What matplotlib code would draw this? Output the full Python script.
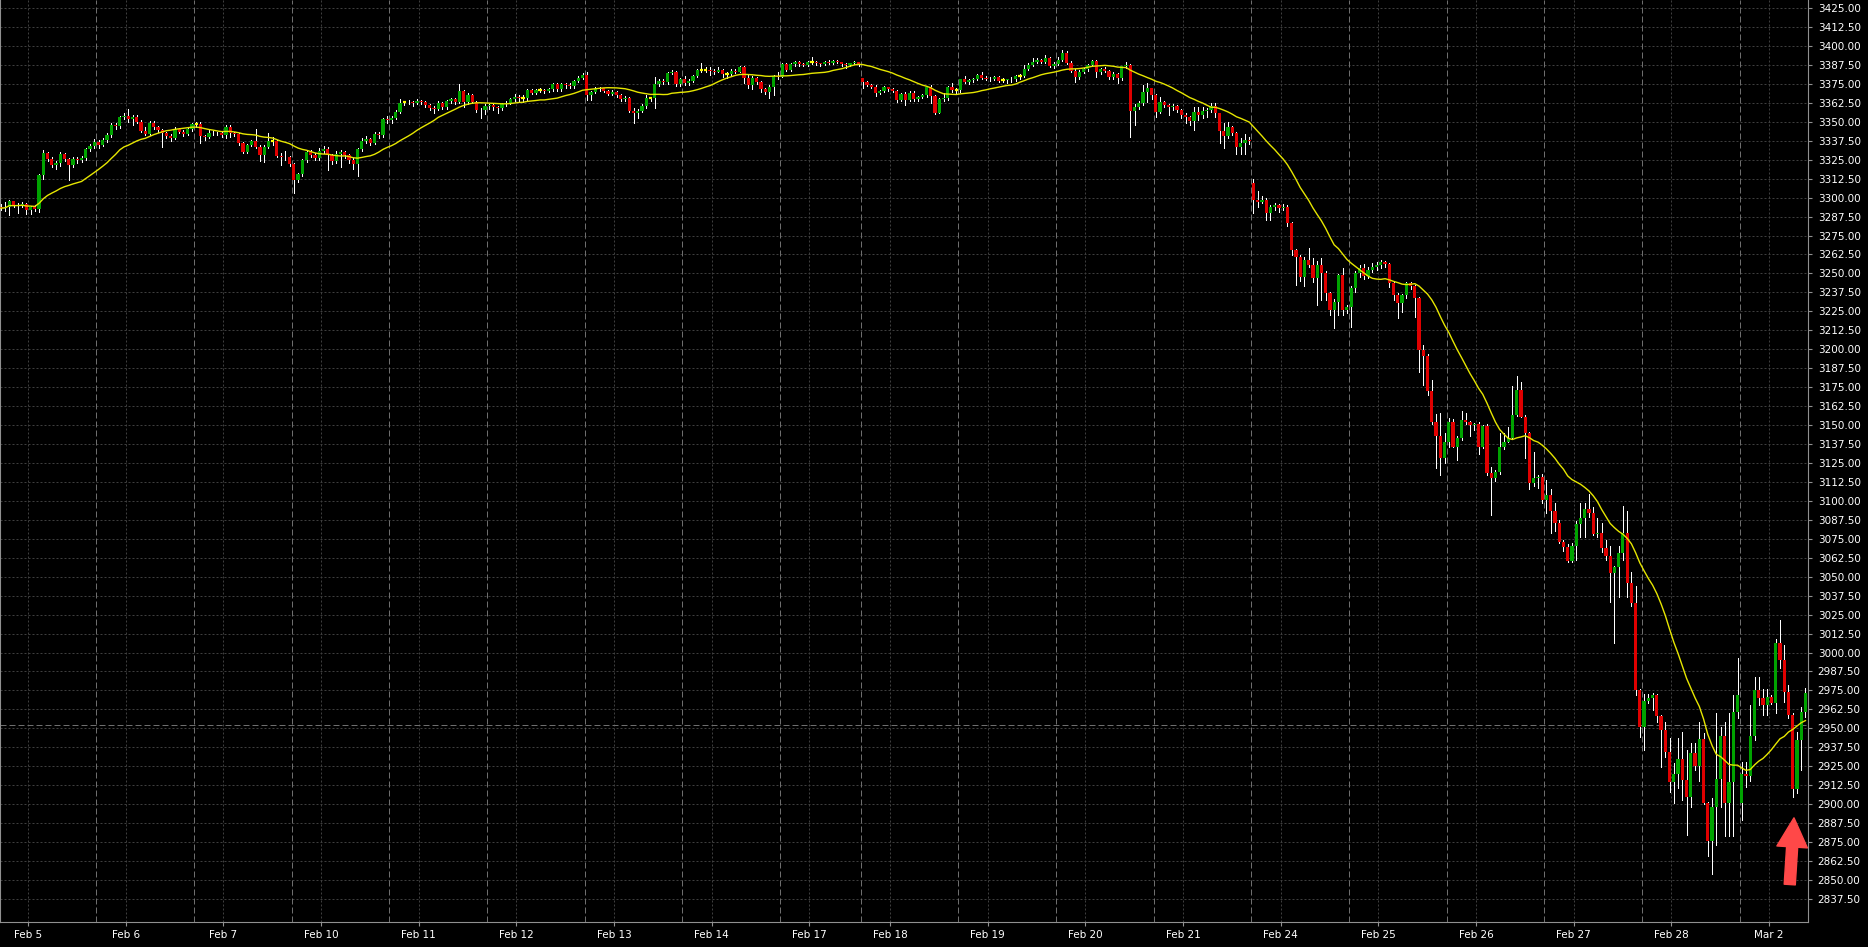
import numpy as np
import pandas as pd
import matplotlib
matplotlib.use('Agg')
import matplotlib.pyplot as plt

# hourly bars, one list per trading day: (high, low, close)
feb05 = [(3296.0, 3291.5, 3293.0), (3297.0, 3291.0, 3293.5), (3298.5, 3288.5, 3297.7), (3298.0, 3293.5, 3294.5),
         (3296.5, 3290.0, 3295.0), (3297.0, 3294.0, 3296.0), (3296.5, 3289.5, 3291.5), (3294.5, 3289.5, 3294.0),
         (3295.0, 3291.0, 3292.5), (3315.5, 3290.5, 3315.0), (3331.4, 3312.0, 3329.2), (3330.0, 3324.0, 3325.4),
         (3326.5, 3320.0, 3321.5), (3324.0, 3319.0, 3322.5), (3330.0, 3321.0, 3328.7), (3329.5, 3324.0, 3325.4),
         (3326.0, 3311.6, 3321.5), (3326.5, 3320.5, 3325.4), (3327.0, 3323.0, 3324.5), (3327.5, 3323.5, 3326.0),
         (3333.0, 3325.0, 3332.0), (3335.5, 3331.0, 3334.0), (3338.5, 3332.5, 3336.5)]
feb06 = [(3338.0, 3333.0, 3335.0), (3339.5, 3334.0, 3338.0), (3342.5, 3336.5, 3341.3), (3349.0, 3340.0, 3347.9),
         (3349.5, 3345.5, 3347.0), (3354.0, 3346.0, 3352.9), (3356.0, 3351.5, 3353.8), (3358.4, 3350.0, 3351.6),
         (3354.5, 3348.0, 3353.0), (3354.5, 3349.0, 3350.0), (3351.0, 3343.0, 3343.9), (3346.8, 3341.0, 3341.9),
         (3350.5, 3341.0, 3349.4), (3350.5, 3345.0, 3346.3), (3347.5, 3343.5, 3344.6), (3345.5, 3333.5, 3342.4),
         (3343.5, 3339.5, 3340.8), (3342.0, 3337.5, 3339.2), (3346.5, 3338.5, 3345.0), (3346.0, 3342.5, 3343.5),
         (3344.5, 3340.5, 3342.0), (3346.5, 3341.0, 3345.0), (3349.5, 3344.0, 3348.5)]
feb07 = [(3350.0, 3346.5, 3348.3), (3350.0, 3336.0, 3340.8), (3341.5, 3338.0, 3339.8), (3345.0, 3339.0, 3342.3),
         (3344.0, 3341.0, 3342.8), (3343.5, 3341.0, 3342.3), (3343.0, 3340.0, 3341.5), (3347.8, 3339.0, 3346.3),
         (3347.8, 3340.0, 3342.8), (3343.5, 3340.5, 3341.7), (3342.5, 3335.0, 3335.8), (3336.5, 3329.5, 3330.3),
         (3335.5, 3329.5, 3334.7), (3338.0, 3334.0, 3337.5), (3345.0, 3333.0, 3333.6), (3334.5, 3324.3, 3328.0),
         (3334.5, 3323.7, 3333.6), (3342.3, 3332.5, 3337.5), (3340.0, 3334.5, 3337.3), (3338.0, 3327.0, 3327.6),
         (3329.5, 3321.5, 3327.0), (3331.0, 3324.5, 3326.5), (3327.5, 3321.0, 3322.0)]
feb10 = [(3322.6, 3303.2, 3311.6), (3316.5, 3310.0, 3315.5), (3325.5, 3314.0, 3324.8), (3331.0, 3323.5, 3330.0),
         (3331.5, 3326.5, 3328.0), (3329.5, 3324.5, 3326.0), (3332.5, 3325.0, 3331.0), (3334.0, 3329.5, 3332.0),
         (3333.5, 3318.0, 3328.0), (3329.0, 3322.0, 3324.0), (3330.5, 3322.5, 3329.0), (3331.5, 3320.0, 3330.0),
         (3331.0, 3326.0, 3328.0), (3329.0, 3322.5, 3325.0), (3326.0, 3319.0, 3322.0), (3333.0, 3314.0, 3332.0),
         (3339.0, 3331.0, 3337.5), (3340.5, 3336.0, 3338.5), (3339.5, 3335.0, 3336.0), (3343.5, 3335.5, 3342.0),
         (3343.0, 3339.5, 3341.0), (3352.5, 3340.0, 3351.6), (3353.5, 3349.0, 3351.0)]
feb11 = [(3354.0, 3349.5, 3352.3), (3357.5, 3351.5, 3356.7), (3364.8, 3355.5, 3362.6), (3364.0, 3361.0, 3362.8),
         (3364.5, 3361.5, 3363.2), (3364.0, 3360.5, 3362.5), (3365.0, 3361.5, 3363.9), (3364.5, 3361.5, 3363.2),
         (3364.0, 3359.5, 3361.0), (3361.5, 3357.5, 3359.3), (3360.5, 3355.6, 3358.5), (3363.5, 3357.5, 3362.6),
         (3363.0, 3358.5, 3359.5), (3364.5, 3358.5, 3363.9), (3366.0, 3362.5, 3364.8), (3365.5, 3362.0, 3363.2),
         (3374.9, 3362.5, 3370.3), (3371.0, 3360.0, 3363.2), (3369.0, 3362.0, 3367.6), (3368.5, 3362.5, 3363.2),
         (3364.0, 3356.5, 3357.8), (3359.0, 3352.3, 3357.5), (3361.5, 3355.0, 3360.5)]
feb12 = [(3362.0, 3358.5, 3361.0), (3362.0, 3358.0, 3359.5), (3360.5, 3355.5, 3359.0), (3362.5, 3358.0, 3361.7),
         (3363.5, 3360.5, 3362.6), (3365.5, 3361.5, 3364.8), (3368.0, 3363.5, 3366.5), (3367.5, 3363.0, 3365.4),
         (3367.6, 3363.0, 3365.6), (3371.5, 3364.5, 3370.9), (3371.5, 3368.0, 3369.2), (3371.5, 3368.5, 3370.9),
         (3372.0, 3369.5, 3371.0), (3371.5, 3369.0, 3370.3), (3372.5, 3369.5, 3371.4), (3375.5, 3370.5, 3374.9),
         (3375.5, 3370.5, 3371.4), (3375.5, 3370.0, 3374.9), (3375.8, 3372.5, 3374.2), (3375.5, 3372.0, 3373.5),
         (3377.8, 3372.5, 3377.1), (3380.0, 3376.0, 3379.1), (3382.0, 3378.5, 3380.8)]
feb13 = [(3383.0, 3364.3, 3367.6), (3370.5, 3364.3, 3369.8), (3373.1, 3369.0, 3371.4), (3373.0, 3370.5, 3372.0),
         (3372.5, 3369.5, 3370.5), (3371.0, 3367.5, 3368.5), (3371.0, 3367.5, 3369.8), (3370.5, 3366.5, 3367.6),
         (3368.5, 3364.0, 3365.0), (3367.0, 3363.5, 3366.0), (3366.5, 3356.5, 3357.3), (3359.0, 3349.0, 3356.0),
         (3358.5, 3352.3, 3357.3), (3361.5, 3356.5, 3360.4), (3367.6, 3359.0, 3365.4), (3366.5, 3364.0, 3365.6),
         (3379.7, 3359.0, 3374.9), (3378.5, 3373.5, 3377.1), (3378.0, 3375.0, 3376.0), (3383.0, 3375.0, 3382.4),
         (3384.0, 3381.5, 3383.0), (3383.5, 3373.5, 3374.9), (3379.0, 3373.5, 3378.0)]
feb14 = [(3380.2, 3374.0, 3375.3), (3378.0, 3374.5, 3377.0), (3381.0, 3376.5, 3380.2), (3385.0, 3379.5, 3384.0),
         (3388.5, 3382.5, 3384.1), (3386.0, 3383.0, 3384.3), (3386.0, 3381.0, 3383.7), (3384.5, 3381.5, 3383.0),
         (3386.0, 3382.5, 3384.0), (3384.5, 3379.7, 3381.5), (3383.0, 3379.0, 3381.7), (3384.5, 3380.5, 3383.7),
         (3384.5, 3382.0, 3383.0), (3386.5, 3382.5, 3385.9), (3386.5, 3375.8, 3379.1), (3380.8, 3372.5, 3374.2),
         (3380.0, 3371.4, 3379.1), (3379.5, 3375.0, 3376.4), (3377.0, 3369.8, 3371.4), (3372.0, 3368.5, 3369.8),
         (3374.0, 3365.4, 3373.1), (3381.0, 3367.6, 3380.2), (3382.5, 3378.5, 3379.5)]
feb17 = [(3389.0, 3379.5, 3388.1), (3388.5, 3383.5, 3384.1), (3388.5, 3383.5, 3388.1), (3390.0, 3387.0, 3389.4),
         (3390.0, 3387.0, 3387.9), (3388.5, 3386.5, 3387.2), (3390.0, 3386.5, 3389.4), (3392.5, 3387.9, 3389.6),
         (3390.0, 3387.5, 3388.5), (3389.0, 3387.0, 3387.9), (3390.0, 3387.5, 3389.2), (3390.5, 3388.0, 3388.5),
         (3390.5, 3388.0, 3390.1), (3390.5, 3388.5, 3389.2), (3389.5, 3387.0, 3387.9), (3388.5, 3385.5, 3387.4),
         (3389.0, 3386.5, 3388.5), (3390.0, 3388.0, 3389.2), (3389.5, 3387.0, 3387.9)]
feb18 = [(3379.0, 3372.0, 3376.4), (3377.0, 3373.5, 3374.2), (3375.0, 3372.0, 3373.1), (3374.0, 3367.0, 3369.2),
         (3371.0, 3368.5, 3370.3), (3373.5, 3369.5, 3372.7), (3373.0, 3370.5, 3371.8), (3372.5, 3369.5, 3370.3),
         (3371.0, 3363.2, 3364.3), (3369.0, 3363.5, 3368.3), (3369.5, 3361.0, 3364.3), (3370.0, 3363.5, 3369.2),
         (3370.0, 3364.0, 3364.8), (3367.0, 3364.0, 3366.5), (3368.5, 3365.5, 3367.6), (3373.5, 3366.5, 3372.7),
         (3374.5, 3362.6, 3367.0), (3367.5, 3355.1, 3356.0), (3365.5, 3355.5, 3364.8), (3369.2, 3363.5, 3365.4),
         (3373.5, 3364.5, 3372.7), (3375.3, 3369.5, 3370.9), (3372.0, 3369.0, 3370.7)]
feb19 = [(3378.5, 3369.5, 3378.0), (3380.0, 3375.5, 3376.4), (3378.5, 3375.0, 3377.5), (3379.0, 3376.5, 3378.2),
         (3381.5, 3377.5, 3380.8), (3382.5, 3378.5, 3379.1), (3380.0, 3377.5, 3378.5), (3379.5, 3377.0, 3378.0),
         (3380.5, 3377.5, 3379.7), (3380.5, 3376.5, 3377.1), (3379.0, 3376.0, 3377.3), (3378.5, 3375.5, 3377.9),
         (3379.5, 3376.0, 3378.5), (3381.0, 3377.0, 3380.2), (3381.5, 3378.5, 3380.4), (3387.4, 3379.5, 3384.8),
         (3388.5, 3384.0, 3387.4), (3391.8, 3386.5, 3389.6), (3392.0, 3389.0, 3390.7), (3391.5, 3388.5, 3389.6),
         (3394.0, 3389.0, 3391.8), (3392.5, 3386.0, 3386.7), (3389.5, 3385.5, 3388.1)]
feb20 = [(3392.5, 3387.5, 3391.0), (3397.3, 3390.0, 3395.5), (3396.5, 3388.0, 3389.0), (3390.0, 3383.0, 3383.7),
         (3384.5, 3376.4, 3379.3), (3384.0, 3378.5, 3383.0), (3385.5, 3382.0, 3384.5), (3388.0, 3383.5, 3387.4),
         (3391.0, 3386.5, 3390.3), (3391.0, 3379.7, 3383.0), (3385.5, 3381.5, 3384.8), (3386.0, 3382.5, 3383.5),
         (3384.0, 3378.5, 3379.3), (3382.5, 3378.0, 3381.5), (3382.0, 3375.3, 3378.6), (3387.0, 3377.5, 3386.7),
         (3389.6, 3385.5, 3387.4), (3388.0, 3339.7, 3357.3), (3362.0, 3347.8, 3360.0), (3363.5, 3358.5, 3362.1),
         (3374.2, 3361.0, 3369.8), (3375.3, 3363.0, 3372.0), (3372.5, 3365.0, 3367.6)]
feb21 = [(3368.0, 3353.3, 3356.6), (3366.5, 3355.5, 3363.2), (3364.0, 3360.0, 3361.0), (3362.0, 3354.4, 3359.5),
         (3361.5, 3358.0, 3360.4), (3361.0, 3356.5, 3357.7), (3358.5, 3352.2, 3354.4), (3355.5, 3349.4, 3353.3),
         (3354.0, 3347.8, 3350.7), (3360.0, 3344.6, 3356.6), (3359.5, 3351.0, 3354.4), (3360.0, 3352.2, 3357.3),
         (3359.0, 3353.3, 3357.9), (3362.6, 3356.5, 3360.6), (3362.6, 3353.3, 3355.5), (3356.0, 3336.2, 3344.1),
         (3349.0, 3332.5, 3340.6), (3350.0, 3339.5, 3346.3), (3347.0, 3341.0, 3342.4), (3343.0, 3328.7, 3333.6),
         (3339.1, 3328.7, 3335.8), (3341.9, 3328.7, 3338.0), (3340.0, 3335.5, 3337.0)]
feb24 = [(3312.0, 3289.6, 3298.4), (3304.6, 3294.0, 3297.3), (3301.0, 3296.2, 3298.4), (3299.5, 3285.2, 3289.6),
         (3295.0, 3285.2, 3293.6), (3296.2, 3292.0, 3295.1), (3296.0, 3290.7, 3292.9), (3295.5, 3291.5, 3294.0),
         (3295.0, 3281.3, 3283.0), (3284.1, 3262.1, 3265.4), (3266.0, 3242.3, 3261.0), (3262.0, 3245.2, 3247.8),
         (3261.0, 3241.7, 3258.8), (3266.5, 3254.4, 3255.5), (3260.0, 3244.6, 3246.7), (3258.4, 3229.2, 3255.5),
         (3260.0, 3232.4, 3250.0), (3251.5, 3232.4, 3236.8), (3238.0, 3222.5, 3225.8), (3233.0, 3213.8, 3231.3),
         (3249.6, 3222.5, 3248.9), (3253.3, 3222.5, 3225.8), (3229.5, 3224.0, 3228.0)]
feb25 = [(3241.5, 3214.4, 3240.1), (3251.5, 3238.0, 3250.0), (3255.5, 3247.5, 3253.3), (3256.0, 3246.5, 3248.3),
         (3254.0, 3247.0, 3252.2), (3256.6, 3251.0, 3254.0), (3257.5, 3252.5, 3255.4), (3258.8, 3253.5, 3257.7),
         (3258.5, 3254.0, 3256.2), (3257.0, 3241.2, 3243.4), (3244.5, 3232.4, 3235.7), (3237.0, 3220.3, 3230.2),
         (3236.5, 3224.7, 3235.7), (3244.5, 3234.0, 3243.4), (3244.5, 3240.0, 3241.7), (3242.5, 3221.4, 3233.5),
         (3234.5, 3185.2, 3199.5), (3203.0, 3176.4, 3195.6), (3197.0, 3170.0, 3172.7), (3180.0, 3150.8, 3152.3),
         (3157.0, 3121.5, 3142.8), (3158.0, 3117.1, 3128.5), (3145.0, 3125.2, 3139.1)]
feb26 = [(3154.5, 3135.8, 3152.3), (3153.8, 3135.3, 3135.8), (3142.5, 3127.0, 3141.3), (3159.5, 3140.0, 3153.4),
         (3158.0, 3150.5, 3152.3), (3153.0, 3142.8, 3150.1), (3151.5, 3146.8, 3150.9), (3152.0, 3131.0, 3135.8),
         (3150.0, 3135.0, 3149.4), (3151.0, 3116.8, 3118.6), (3122.5, 3090.7, 3114.9), (3120.5, 3113.4, 3119.3),
         (3145.0, 3118.0, 3135.8), (3145.0, 3134.5, 3139.1), (3149.0, 3138.5, 3141.3), (3175.8, 3140.5, 3156.7),
         (3182.4, 3156.0, 3173.1), (3178.6, 3155.0, 3155.6), (3156.5, 3128.0, 3145.0), (3145.5, 3107.6, 3112.0),
         (3132.5, 3109.5, 3114.9), (3117.0, 3108.5, 3116.0), (3118.0, 3098.4, 3100.6)]
feb27 = [(3113.8, 3092.3, 3103.9), (3107.6, 3078.6, 3093.6), (3098.9, 3080.4, 3085.7), (3087.4, 3072.0, 3073.1),
         (3074.0, 3067.2, 3069.8), (3071.6, 3060.0, 3060.4), (3072.0, 3060.0, 3070.3), (3087.0, 3061.0, 3084.8),
         (3098.9, 3076.4, 3088.5), (3098.9, 3076.4, 3094.5), (3104.6, 3089.6, 3092.3), (3096.2, 3077.5, 3078.2),
         (3088.5, 3076.4, 3079.1), (3085.2, 3066.5, 3068.7), (3074.2, 3061.0, 3063.7), (3070.5, 3033.6, 3052.7),
         (3057.0, 3006.5, 3056.2), (3070.5, 3036.4, 3065.9), (3096.7, 3061.0, 3079.1), (3093.6, 3036.4, 3045.7),
         (3053.4, 3030.7, 3032.5), (3043.9, 2972.0, 2975.4), (2976.0, 2944.6, 2951.2)]
feb28 = [(2972.7, 2935.4, 2968.1), (2972.7, 2967.0, 2969.9), (2973.2, 2962.2, 2972.1), (2972.5, 2954.5, 2958.2),
         (2958.5, 2924.4, 2949.0), (2954.5, 2931.4, 2934.7), (2943.5, 2907.7, 2914.9), (2927.0, 2901.1, 2920.0),
         (2943.5, 2910.5, 2929.6), (2947.9, 2902.8, 2916.0), (2935.4, 2879.8, 2905.0), (2940.2, 2898.4, 2933.6),
         (2940.2, 2922.6, 2925.3), (2954.5, 2915.0, 2942.8), (2946.8, 2900.2, 2901.1), (2901.5, 2865.9, 2875.4),
         (2904.0, 2854.1, 2898.4), (2960.0, 2873.2, 2916.5), (2951.2, 2898.4, 2945.1), (2954.5, 2878.7, 2901.1),
         (2960.0, 2878.7, 2914.9), (2972.1, 2878.7, 2961.1), (2996.2, 2956.7, 2972.1)]
mar02 = [(2928.1, 2889.6, 2920.0), (2928.1, 2911.6, 2918.7), (2965.5, 2915.0, 2945.1), (2983.7, 2942.4, 2975.4),
         (2983.7, 2965.5, 2970.0), (2975.8, 2958.9, 2965.5), (2975.8, 2958.9, 2971.0), (2972.0, 2966.0, 2966.6),
         (3008.8, 2960.0, 3006.1), (3021.5, 2989.6, 2995.1), (3005.0, 2967.7, 2974.3), (2978.5, 2956.7, 2958.9),
         (2960.0, 2904.4, 2909.9), (2947.9, 2907.2, 2942.4), (2964.4, 2922.6, 2961.1), (2976.5, 2957.8, 2973.2)]

day_labels = ['Feb 5', 'Feb 6', 'Feb 7', 'Feb 10', 'Feb 11', 'Feb 12', 'Feb 13', 'Feb 14', 'Feb 17',
              'Feb 18', 'Feb 19', 'Feb 20', 'Feb 21', 'Feb 24', 'Feb 25', 'Feb 26', 'Feb 27', 'Feb 28', 'Mar 2']
day_bars = [feb05, feb06, feb07, feb10, feb11, feb12, feb13, feb14, feb17,
            feb18, feb19, feb20, feb21, feb24, feb25, feb26, feb27, feb28, mar02]
# opening prices of the first bar where the market gapped
day_open = {'Feb 5': 3294.0, 'Feb 18': 3378.6, 'Feb 24': 3309.4, 'Mar 2': 2901.1}
marked_line = 2952.0

rows = []
starts = []
for lab, bars in zip(day_labels, day_bars):
    starts.append(len(rows))
    rows.extend(bars)
df = pd.DataFrame(rows, columns=['high', 'low', 'close'])
df['open'] = df['close'].shift(1)
for lab, st in zip(day_labels, starts):
    if lab in day_open:
        df.loc[st, 'open'] = day_open[lab]
df['ma'] = df['close'].rolling(20, min_periods=1).mean()
x = np.arange(len(df))
starts = np.array(starts)

fig = plt.figure(figsize=(18.68, 9.47), dpi=100, facecolor='black')
ax = fig.add_axes([0, 25 / 947, 1808 / 1868, 922 / 947])
ax.set_facecolor('black')

grid_c = '#3e3e3e'
sep_c = '#6e6e6e'
# price grid + time grid
for yv in np.arange(2837.5, 3425.1, 12.5):
    ax.axhline(yv, color=grid_c, lw=0.72, ls=(0, (2, 2)), zorder=0)
for s in starts:
    ax.axvline(s + 6.4, color=grid_c, lw=0.72, ls=(0, (2, 2)), zorder=0)
# day separators
for s in starts[1:]:
    ax.axvline(s - 0.5, color=sep_c, lw=0.72, ls=(0, (6, 3)), zorder=1)
ax.axhline(marked_line, color=sep_c, lw=0.72, ls=(0, (6, 3)), zorder=1)

o = df['open'].values
c = df['close'].values
up = c > o + 0.25
dn = c < o - 0.25
dj = ~(up | dn)

ax.vlines(x, df['low'], df['high'], color='white', lw=0.72, antialiased=False, zorder=2)
ax.bar(x[up], (c - o)[up], bottom=o[up], width=0.76, color='#00a300', linewidth=0, zorder=3)
ax.bar(x[dn], (c - o)[dn], bottom=o[dn], width=0.76, color='#e00000', linewidth=0, zorder=3)
ax.hlines(c[dj], x[dj] - 0.4, x[dj] + 0.4, color='#ffff00', lw=1.6, zorder=3)

ax.plot(x, df['ma'], color='#e6e600', lw=1.0, zorder=4)

ax.annotate('', xy=(422.3, 2891), xytext=(421.3, 2847),
            arrowprops=dict(arrowstyle='simple,head_length=1.05,head_width=1.1,tail_width=0.4',
                            color='#ff4848', mutation_scale=20, shrinkA=0, shrinkB=0), zorder=6)

ax.set_xlim(-0.21, 425.6)
ax.set_ylim(2822.3, 3430.3)

ax.yaxis.tick_right()
ax.set_yticks(np.arange(2837.5, 3425.1, 12.5))
ax.set_yticklabels(['%.2f' % v for v in np.arange(2837.5, 3425.1, 12.5)])
ax.set_xticks(starts + 6.4)
ax.set_xticklabels(day_labels)
ax.tick_params(axis='both', colors='#909090', labelcolor='white', labelsize=7.5, length=3, width=0.8)
ax.tick_params(axis='y', pad=4)
ax.tick_params(axis='x', pad=3)
ax.spines['top'].set_visible(False)
for side in ['left', 'bottom', 'right']:
    ax.spines[side].set_color('#909090')
    ax.spines[side].set_linewidth(0.8)

fig.savefig('out.png', dpi=100, facecolor='black')
